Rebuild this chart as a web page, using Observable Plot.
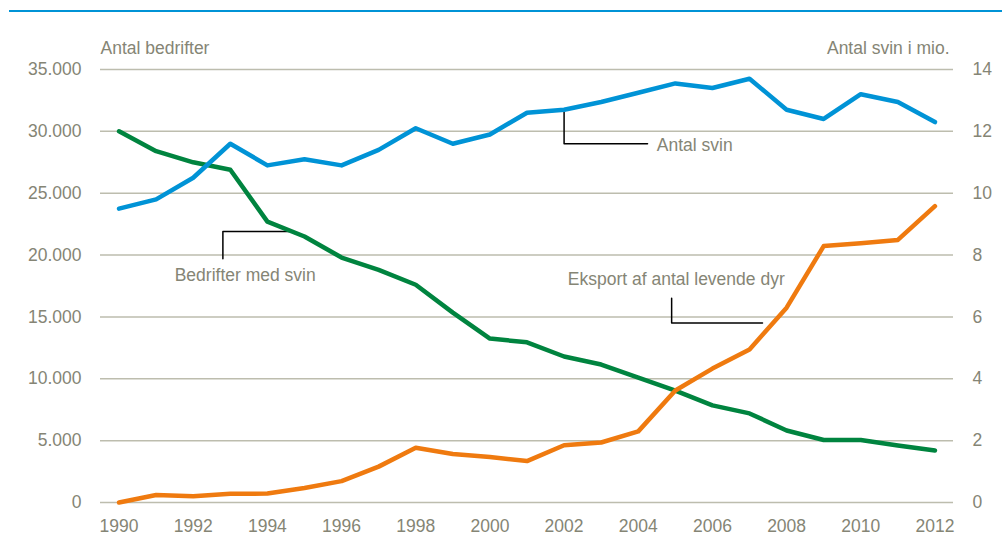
<!DOCTYPE html>
<html>
<head>
<meta charset="utf-8">
<script src="https://cdn.jsdelivr.net/npm/d3@7"></script>
<script src="https://cdn.jsdelivr.net/npm/@observablehq/plot@0.6"></script>
<style>
  html, body { margin: 0; padding: 0; background: #fff; }
  #wrap { position: relative; width: 1002px; height: 539px; overflow: hidden; }
  #rule { position: absolute; left: 9px; top: 10px; width: 993px; height: 2px; background: #0093d6; }
  #chart { position: absolute; left: 0; top: 0; }
</style>
</head>
<body>
<div id="wrap"><div id="rule"></div><div id="chart"></div></div>
<script>
const years = d3.range(1990, 2013);
// Bedrifter med svin (left axis, antal)
const bedrifter = [30000, 28400, 27500, 26900, 22700, 21500, 19800, 18800, 17600, 15350, 13250, 12950, 11800, 11150, 10100, 9050, 7850, 7200, 5820, 5050, 5050, 4600, 4200];
// Antal svin (right axis, mio.)
const svin = [9.5, 9.8, 10.5, 11.6, 10.9, 11.1, 10.9, 11.4, 12.1, 11.6, 11.9, 12.6, 12.7, 12.95, 13.25, 13.55, 13.4, 13.7, 12.7, 12.4, 13.2, 12.95, 12.3];
// Eksport af antal levende dyr (right axis, mio.)
const eksport = [0.0, 0.24, 0.2, 0.28, 0.29, 0.47, 0.69, 1.16, 1.77, 1.57, 1.47, 1.34, 1.85, 1.94, 2.3, 3.62, 4.33, 4.95, 6.3, 8.29, 8.38, 8.49, 9.58];

const leftTicks = [0, 5000, 10000, 15000, 20000, 25000, 30000, 35000];
const rightTicks = [0, 2, 4, 6, 8, 10, 12, 14];
const xTicks = d3.range(1990, 2013, 2);
const k = 35000 / 14; // right-axis to left-axis factor

const leftLabel = "Antal bedrifter";
const rightLabel = "Antal svin i mio.";

// annotations: leader lines (data coords) and labels
const leaders = [
  {name: "svin", pts: [[2002, 12.7 * k], [2002, 11.6 * k], [2004.25, 11.6 * k]]},
  {name: "bedrifter", pts: [[1992.8, 19700], [1992.8, 21900], [1994.7, 21900]]},
  {name: "eksport", pts: [[2004.9, 6.6 * k], [2004.9, 5.8 * k], [2007.35, 5.8 * k]]}
];
const labels = [
  {x: 2004.5, y: 11.55 * k, text: "Antal svin"},
  {x: 1991.5, y: 18350, text: "Bedrifter med svin"},
  {x: 2002.1, y: 7.2 * k, text: "Eksport af antal levende dyr"}
];

const fmt = d => d3.format(",")(d).replace(/,/g, ".");
const txt = "#858575";
const grid = "#bdbdae";
const fs = 17.5;

const rows = (arr, scale) => years.map((yr, i) => ({x: yr, y: arr[i] * scale}));
const leaderRows = leaders.flatMap(l => l.pts.map(([x, y]) => ({g: l.name, x, y})));

const chart = Plot.plot({
  width: 1002,
  height: 539,
  marginLeft: 100,
  marginRight: 49,
  marginTop: 69,
  marginBottom: 37,
  style: {fontFamily: "'Liberation Sans Narrow', 'Arial Narrow', 'Liberation Sans', sans-serif", fontSize: fs + "px", color: txt, background: "transparent"},
  x: {domain: [1989.5, 2012.5]},
  y: {domain: [0, 35000]},
  marks: [
    Plot.ruleY(leftTicks, {stroke: grid, strokeWidth: 1.5}),
    Plot.axisY(leftTicks, {anchor: "left", tickSize: 0, tickPadding: 19, tickFormat: fmt, label: null, fill: txt, fontSize: fs}),
    Plot.axisY(rightTicks.map(d => d * k), {anchor: "right", tickSize: 0, tickPadding: 19, tickFormat: d => Math.round(d / k), label: null, fill: txt, fontSize: fs}),
    Plot.axisX(xTicks, {anchor: "bottom", tickSize: 0, tickPadding: 17, tickFormat: d => String(d), label: null, fill: txt, fontSize: fs}),
    Plot.line(leaderRows, {x: "x", y: "y", z: "g", stroke: "#000", strokeWidth: 1.5, curve: "linear"}),
    Plot.line(rows(bedrifter, 1), {x: "x", y: "y", stroke: "#00843f", strokeWidth: 4.5, strokeLinejoin: "round", strokeLinecap: "round"}),
    Plot.line(rows(svin, k), {x: "x", y: "y", stroke: "#0093d6", strokeWidth: 4.5, strokeLinejoin: "round", strokeLinecap: "round"}),
    Plot.line(rows(eksport, k), {x: "x", y: "y", stroke: "#ef7a0f", strokeWidth: 4.5, strokeLinejoin: "round", strokeLinecap: "round"}),
    Plot.text(labels, {x: "x", y: "y", text: "text", textAnchor: "start", fill: txt, fontSize: fs}),
    Plot.text([leftLabel], {frameAnchor: "top-left", lineAnchor: "middle", dy: -21, text: d => d, textAnchor: "start", fill: txt, fontSize: fs}),
    Plot.text([rightLabel], {frameAnchor: "top-right", lineAnchor: "middle", dy: -21, dx: -4, text: d => d, textAnchor: "end", fill: txt, fontSize: fs})
  ]
});
document.getElementById("chart").appendChild(chart);
</script>
</body>
</html>
